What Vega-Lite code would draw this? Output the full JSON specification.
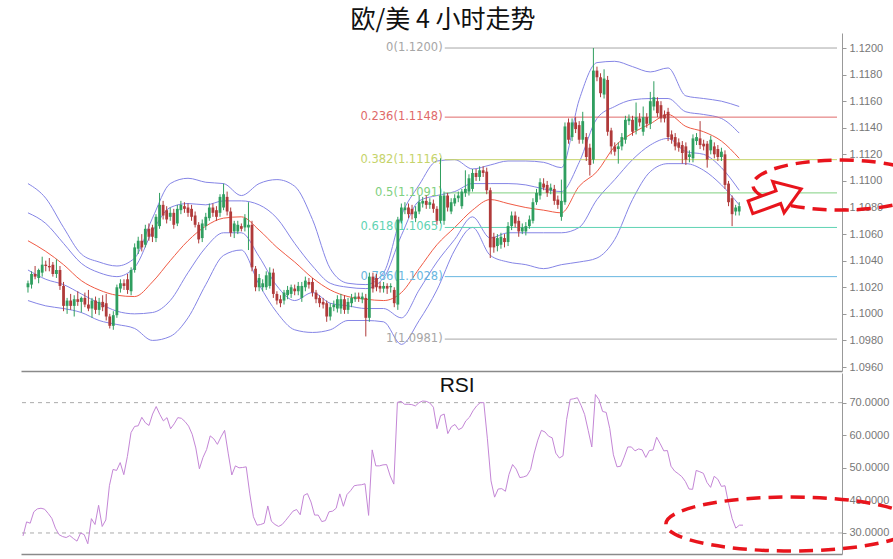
{
"$schema": "https://vega.github.io/schema/vega-lite/v6.json",
"padding": {"left": 20, "top": 8, "right": 0, "bottom": 0},
"background": "white",
"title": {"text": "欧/美 4 小时走势", "fontSize": 25, "font": "Noto Sans CJK SC", "fontWeight": "normal", "color": "#111111", "offset": 0, "anchor": "start", "dx": 330},
"config": {"view": {"stroke": null}, "axis": {"labelFont": "Liberation Sans", "labelFontSize": 11, "labelColor": "#777777", "domainColor": "#999999", "tickColor": "#999999", "grid": false, "labelOverlap": false}},
"spacing": 0,
"datasets": {
"candles": [
{"i":0,"o":1.1020,"h":1.1025,"l":1.1016,"c":1.1023,"r":29.1},
{"i":1,"o":1.1022,"h":1.1032,"l":1.1019,"c":1.1030,"r":33.4},
{"i":2,"o":1.1030,"h":1.1036,"l":1.1026,"c":1.1028,"r":33.0},
{"i":3,"o":1.1027,"h":1.1034,"l":1.1023,"c":1.1033,"r":36.5},
{"i":4,"o":1.1031,"h":1.1043,"l":1.1028,"c":1.1037,"r":37.4},
{"i":5,"o":1.1037,"h":1.1040,"l":1.1032,"c":1.1036,"r":37.6},
{"i":6,"o":1.1036,"h":1.1042,"l":1.1032,"c":1.1035,"r":37.3},
{"i":7,"o":1.1037,"h":1.1039,"l":1.1028,"c":1.1030,"r":36.0},
{"i":8,"o":1.1030,"h":1.1041,"l":1.1027,"c":1.1033,"r":34.5},
{"i":9,"o":1.1033,"h":1.1036,"l":1.1018,"c":1.1021,"r":31.5},
{"i":10,"o":1.1021,"h":1.1024,"l":1.1002,"c":1.1006,"r":29.5},
{"i":11,"o":1.1006,"h":1.1012,"l":1.1000,"c":1.1010,"r":28.9},
{"i":12,"o":1.1010,"h":1.1015,"l":1.1003,"c":1.1006,"r":28.6},
{"i":13,"o":1.1006,"h":1.1014,"l":1.0998,"c":1.1011,"r":29.2},
{"i":14,"o":1.1011,"h":1.1017,"l":1.1006,"c":1.1009,"r":28.3},
{"i":15,"o":1.1009,"h":1.1013,"l":1.1001,"c":1.1012,"r":27.5},
{"i":16,"o":1.1012,"h":1.1016,"l":1.1005,"c":1.1007,"r":30.0},
{"i":17,"o":1.1007,"h":1.1018,"l":1.1002,"c":1.1004,"r":29.5},
{"i":18,"o":1.1004,"h":1.1012,"l":1.0997,"c":1.1010,"r":26.7},
{"i":19,"o":1.1010,"h":1.1013,"l":1.1000,"c":1.1003,"r":34.4},
{"i":20,"o":1.1003,"h":1.1012,"l":1.0999,"c":1.1009,"r":32.6},
{"i":21,"o":1.1009,"h":1.1014,"l":1.1002,"c":1.1005,"r":38.5},
{"i":22,"o":1.1008,"h":1.1015,"l":1.0995,"c":1.0998,"r":32.0},
{"i":23,"o":1.0998,"h":1.1000,"l":1.0989,"c":1.0991,"r":34.0},
{"i":24,"o":1.0991,"h":1.1002,"l":1.0988,"c":1.0999,"r":44.5},
{"i":25,"o":1.0999,"h":1.1022,"l":1.0997,"c":1.1020,"r":49.5},
{"i":26,"o":1.1019,"h":1.1026,"l":1.1016,"c":1.1023,"r":49.2},
{"i":27,"o":1.1023,"h":1.1026,"l":1.1018,"c":1.1021,"r":51.6},
{"i":28,"o":1.1026,"h":1.1030,"l":1.1015,"c":1.1018,"r":47.9},
{"i":29,"o":1.1017,"h":1.1035,"l":1.1014,"c":1.1033,"r":53.5},
{"i":30,"o":1.1033,"h":1.1053,"l":1.1031,"c":1.1050,"r":60.8},
{"i":31,"o":1.1049,"h":1.1058,"l":1.1045,"c":1.1055,"r":62.7},
{"i":32,"o":1.1055,"h":1.1060,"l":1.1047,"c":1.1050,"r":62.9},
{"i":33,"o":1.1052,"h":1.1067,"l":1.1050,"c":1.1064,"r":65.5},
{"i":34,"o":1.1064,"h":1.1068,"l":1.1055,"c":1.1058,"r":63.8},
{"i":35,"o":1.1065,"h":1.1067,"l":1.1054,"c":1.1058,"r":63.0},
{"i":36,"o":1.1057,"h":1.1075,"l":1.1054,"c":1.1073,"r":66.5},
{"i":37,"o":1.1066,"h":1.1091,"l":1.1064,"c":1.1082,"r":68.8},
{"i":38,"o":1.1082,"h":1.1085,"l":1.1071,"c":1.1074,"r":66.4},
{"i":39,"o":1.1078,"h":1.1081,"l":1.1068,"c":1.1071,"r":64.4},
{"i":40,"o":1.1073,"h":1.1080,"l":1.1070,"c":1.1076,"r":65.4},
{"i":41,"o":1.1076,"h":1.1079,"l":1.1064,"c":1.1067,"r":62.0},
{"i":42,"o":1.1068,"h":1.1082,"l":1.1066,"c":1.1079,"r":63.5},
{"i":43,"o":1.1078,"h":1.1085,"l":1.1075,"c":1.1082,"r":65.4},
{"i":44,"o":1.1081,"h":1.1084,"l":1.1076,"c":1.1079,"r":65.2},
{"i":45,"o":1.1080,"h":1.1083,"l":1.1073,"c":1.1076,"r":64.2},
{"i":46,"o":1.1079,"h":1.1082,"l":1.1070,"c":1.1073,"r":62.8},
{"i":47,"o":1.1074,"h":1.1077,"l":1.1065,"c":1.1067,"r":60.3},
{"i":48,"o":1.1067,"h":1.1069,"l":1.1053,"c":1.1056,"r":56.1},
{"i":49,"o":1.1057,"h":1.1071,"l":1.1054,"c":1.1068,"r":49.7},
{"i":50,"o":1.1066,"h":1.1076,"l":1.1063,"c":1.1073,"r":53.2},
{"i":51,"o":1.1072,"h":1.1083,"l":1.1070,"c":1.1080,"r":55.6},
{"i":52,"o":1.1080,"h":1.1083,"l":1.1073,"c":1.1076,"r":59.8},
{"i":53,"o":1.1078,"h":1.1081,"l":1.1070,"c":1.1073,"r":58.9},
{"i":54,"o":1.1076,"h":1.1090,"l":1.1073,"c":1.1088,"r":57.2},
{"i":55,"o":1.1080,"h":1.1098,"l":1.1078,"c":1.1090,"r":59.5},
{"i":56,"o":1.1088,"h":1.1092,"l":1.1074,"c":1.1077,"r":61.5},
{"i":57,"o":1.1077,"h":1.1080,"l":1.1058,"c":1.1061,"r":54.5},
{"i":58,"o":1.1062,"h":1.1070,"l":1.1057,"c":1.1068,"r":47.8},
{"i":59,"o":1.1062,"h":1.1070,"l":1.1060,"c":1.1067,"r":50.6},
{"i":60,"o":1.1066,"h":1.1068,"l":1.1062,"c":1.1064,"r":50.0},
{"i":61,"o":1.1065,"h":1.1075,"l":1.1062,"c":1.1072,"r":50.1},
{"i":62,"o":1.1065,"h":1.1084,"l":1.1048,"c":1.1067,"r":50.3},
{"i":63,"o":1.1067,"h":1.1070,"l":1.1032,"c":1.1035,"r":42.0},
{"i":64,"o":1.1034,"h":1.1036,"l":1.1017,"c":1.1020,"r":35.0},
{"i":65,"o":1.1020,"h":1.1030,"l":1.1017,"c":1.1027,"r":32.4},
{"i":66,"o":1.1020,"h":1.1026,"l":1.1017,"c":1.1023,"r":32.6},
{"i":67,"o":1.1020,"h":1.1032,"l":1.1018,"c":1.1029,"r":33.0},
{"i":68,"o":1.1021,"h":1.1035,"l":1.1019,"c":1.1031,"r":38.3},
{"i":69,"o":1.1031,"h":1.1034,"l":1.1012,"c":1.1015,"r":33.6},
{"i":70,"o":1.1015,"h":1.1017,"l":1.1007,"c":1.1010,"r":32.6},
{"i":71,"o":1.1011,"h":1.1014,"l":1.1005,"c":1.1008,"r":32.0},
{"i":72,"o":1.1010,"h":1.1018,"l":1.1007,"c":1.1016,"r":32.6},
{"i":73,"o":1.1014,"h":1.1021,"l":1.1011,"c":1.1018,"r":33.9},
{"i":74,"o":1.1015,"h":1.1022,"l":1.1012,"c":1.1020,"r":35.3},
{"i":75,"o":1.1019,"h":1.1022,"l":1.1014,"c":1.1017,"r":36.7},
{"i":76,"o":1.1017,"h":1.1024,"l":1.1014,"c":1.1021,"r":37.2},
{"i":77,"o":1.1012,"h":1.1024,"l":1.1009,"c":1.1021,"r":35.6},
{"i":78,"o":1.1020,"h":1.1028,"l":1.1017,"c":1.1025,"r":41.5},
{"i":79,"o":1.1024,"h":1.1027,"l":1.1019,"c":1.1022,"r":42.1},
{"i":80,"o":1.1024,"h":1.1027,"l":1.1013,"c":1.1016,"r":39.5},
{"i":81,"o":1.1016,"h":1.1018,"l":1.1008,"c":1.1011,"r":35.5},
{"i":82,"o":1.1012,"h":1.1014,"l":1.1005,"c":1.1008,"r":35.5},
{"i":83,"o":1.1009,"h":1.1012,"l":1.1004,"c":1.1007,"r":33.5},
{"i":84,"o":1.1008,"h":1.1010,"l":1.0994,"c":1.0998,"r":33.8},
{"i":85,"o":1.0998,"h":1.1008,"l":1.0995,"c":1.1005,"r":36.5},
{"i":86,"o":1.1005,"h":1.1010,"l":1.1002,"c":1.1007,"r":36.7},
{"i":87,"o":1.1004,"h":1.1014,"l":1.1001,"c":1.1011,"r":37.6},
{"i":88,"o":1.1004,"h":1.1015,"l":1.1000,"c":1.1011,"r":42.0},
{"i":89,"o":1.1011,"h":1.1014,"l":1.1000,"c":1.1003,"r":38.2},
{"i":90,"o":1.1003,"h":1.1012,"l":1.1000,"c":1.1009,"r":41.8},
{"i":91,"o":1.1008,"h":1.1015,"l":1.1005,"c":1.1012,"r":43.0},
{"i":92,"o":1.1011,"h":1.1016,"l":1.1009,"c":1.1013,"r":44.5},
{"i":93,"o":1.1013,"h":1.1016,"l":1.1009,"c":1.1012,"r":44.7},
{"i":94,"o":1.1011,"h":1.1016,"l":1.1008,"c":1.1013,"r":44.8},
{"i":95,"o":1.1012,"h":1.1015,"l":1.0983,"c":1.0997,"r":45.1},
{"i":96,"o":1.0997,"h":1.1031,"l":1.0994,"c":1.1028,"r":35.4},
{"i":97,"o":1.1028,"h":1.1031,"l":1.1016,"c":1.1019,"r":55.5},
{"i":98,"o":1.1027,"h":1.1030,"l":1.1017,"c":1.1020,"r":50.6},
{"i":99,"o":1.1021,"h":1.1024,"l":1.1016,"c":1.1019,"r":50.6},
{"i":100,"o":1.1019,"h":1.1024,"l":1.1016,"c":1.1021,"r":50.9},
{"i":101,"o":1.1021,"h":1.1023,"l":1.1015,"c":1.1019,"r":51.0},
{"i":102,"o":1.1020,"h":1.1023,"l":1.1016,"c":1.1021,"r":47.5},
{"i":103,"o":1.1018,"h":1.1020,"l":1.1005,"c":1.1008,"r":45.0},
{"i":104,"o":1.1007,"h":1.1073,"l":1.1003,"c":1.1071,"r":70.1},
{"i":105,"o":1.1070,"h":1.1083,"l":1.1068,"c":1.1080,"r":70.4},
{"i":106,"o":1.1078,"h":1.1084,"l":1.1075,"c":1.1080,"r":69.5},
{"i":107,"o":1.1080,"h":1.1083,"l":1.1072,"c":1.1075,"r":69.5},
{"i":108,"o":1.1079,"h":1.1082,"l":1.1071,"c":1.1075,"r":69.4},
{"i":109,"o":1.1072,"h":1.1081,"l":1.1069,"c":1.1077,"r":69.0},
{"i":110,"o":1.1077,"h":1.1089,"l":1.1075,"c":1.1084,"r":70.0},
{"i":111,"o":1.1083,"h":1.1088,"l":1.1080,"c":1.1085,"r":70.5},
{"i":112,"o":1.1085,"h":1.1089,"l":1.1079,"c":1.1082,"r":70.4},
{"i":113,"o":1.1082,"h":1.1087,"l":1.1079,"c":1.1084,"r":69.9},
{"i":114,"o":1.1083,"h":1.1086,"l":1.1076,"c":1.1079,"r":68.6},
{"i":115,"o":1.1079,"h":1.1081,"l":1.1067,"c":1.1070,"r":62.0},
{"i":116,"o":1.1070,"h":1.1117,"l":1.1068,"c":1.1089,"r":66.0},
{"i":117,"o":1.1070,"h":1.1092,"l":1.1067,"c":1.1089,"r":66.5},
{"i":118,"o":1.1089,"h":1.1091,"l":1.1077,"c":1.1080,"r":60.5},
{"i":119,"o":1.1077,"h":1.1087,"l":1.1075,"c":1.1084,"r":62.6},
{"i":120,"o":1.1083,"h":1.1090,"l":1.1081,"c":1.1087,"r":63.3},
{"i":121,"o":1.1087,"h":1.1092,"l":1.1084,"c":1.1089,"r":61.7},
{"i":122,"o":1.1081,"h":1.1094,"l":1.1079,"c":1.1092,"r":62.3},
{"i":123,"o":1.1091,"h":1.1108,"l":1.1088,"c":1.1094,"r":64.4},
{"i":124,"o":1.1092,"h":1.1105,"l":1.1089,"c":1.1102,"r":65.5},
{"i":125,"o":1.1094,"h":1.1109,"l":1.1092,"c":1.1106,"r":67.5},
{"i":126,"o":1.1106,"h":1.1109,"l":1.1100,"c":1.1103,"r":69.0},
{"i":127,"o":1.1103,"h":1.1111,"l":1.1100,"c":1.1108,"r":70.0},
{"i":128,"o":1.1108,"h":1.1111,"l":1.1103,"c":1.1106,"r":70.0},
{"i":129,"o":1.1107,"h":1.1110,"l":1.1090,"c":1.1093,"r":58.9},
{"i":130,"o":1.1093,"h":1.1095,"l":1.1042,"c":1.1050,"r":46.0},
{"i":131,"o":1.1058,"h":1.1061,"l":1.1046,"c":1.1050,"r":41.0},
{"i":132,"o":1.1051,"h":1.1060,"l":1.1047,"c":1.1057,"r":43.5},
{"i":133,"o":1.1052,"h":1.1061,"l":1.1049,"c":1.1058,"r":43.6},
{"i":134,"o":1.1057,"h":1.1060,"l":1.1050,"c":1.1054,"r":42.8},
{"i":135,"o":1.1054,"h":1.1069,"l":1.1051,"c":1.1066,"r":48.0},
{"i":136,"o":1.1066,"h":1.1077,"l":1.1063,"c":1.1074,"r":51.0},
{"i":137,"o":1.1074,"h":1.1077,"l":1.1065,"c":1.1068,"r":49.6},
{"i":138,"o":1.1070,"h":1.1073,"l":1.1058,"c":1.1062,"r":47.0},
{"i":139,"o":1.1062,"h":1.1068,"l":1.1060,"c":1.1065,"r":47.2},
{"i":140,"o":1.1062,"h":1.1069,"l":1.1059,"c":1.1066,"r":47.6},
{"i":141,"o":1.1066,"h":1.1074,"l":1.1064,"c":1.1071,"r":49.5},
{"i":142,"o":1.1070,"h":1.1087,"l":1.1068,"c":1.1084,"r":54.5},
{"i":143,"o":1.1084,"h":1.1094,"l":1.1082,"c":1.1091,"r":58.5},
{"i":144,"o":1.1089,"h":1.1102,"l":1.1086,"c":1.1099,"r":61.5},
{"i":145,"o":1.1098,"h":1.1102,"l":1.1093,"c":1.1095,"r":61.0},
{"i":146,"o":1.1097,"h":1.1100,"l":1.1088,"c":1.1091,"r":59.7},
{"i":147,"o":1.1093,"h":1.1098,"l":1.1090,"c":1.1095,"r":59.2},
{"i":148,"o":1.1094,"h":1.1097,"l":1.1082,"c":1.1085,"r":54.5},
{"i":149,"o":1.1086,"h":1.1089,"l":1.1079,"c":1.1082,"r":53.0},
{"i":150,"o":1.1073,"h":1.1101,"l":1.1070,"c":1.1085,"r":53.7},
{"i":151,"o":1.1084,"h":1.1144,"l":1.1082,"c":1.1141,"r":64.8},
{"i":152,"o":1.1144,"h":1.1147,"l":1.1128,"c":1.1131,"r":71.0},
{"i":153,"o":1.1133,"h":1.1147,"l":1.1130,"c":1.1144,"r":71.2},
{"i":154,"o":1.1144,"h":1.1148,"l":1.1136,"c":1.1139,"r":71.5},
{"i":155,"o":1.1142,"h":1.1145,"l":1.1128,"c":1.1131,"r":69.2},
{"i":156,"o":1.1131,"h":1.1152,"l":1.1128,"c":1.1145,"r":66.4},
{"i":157,"o":1.1133,"h":1.1136,"l":1.1115,"c":1.1118,"r":61.5},
{"i":158,"o":1.1125,"h":1.1128,"l":1.1104,"c":1.1112,"r":56.4},
{"i":159,"o":1.1116,"h":1.1200,"l":1.1113,"c":1.1183,"r":72.5},
{"i":160,"o":1.1183,"h":1.1186,"l":1.1175,"c":1.1178,"r":70.9},
{"i":161,"o":1.1178,"h":1.1181,"l":1.1163,"c":1.1166,"r":67.3},
{"i":162,"o":1.1165,"h":1.1184,"l":1.1162,"c":1.1177,"r":67.0},
{"i":163,"o":1.1176,"h":1.1179,"l":1.1134,"c":1.1137,"r":62.0},
{"i":164,"o":1.1138,"h":1.1140,"l":1.1120,"c":1.1126,"r":54.0},
{"i":165,"o":1.1126,"h":1.1129,"l":1.1119,"c":1.1122,"r":50.3},
{"i":166,"o":1.1124,"h":1.1129,"l":1.1113,"c":1.1126,"r":50.5},
{"i":167,"o":1.1126,"h":1.1136,"l":1.1123,"c":1.1133,"r":53.3},
{"i":168,"o":1.1131,"h":1.1149,"l":1.1128,"c":1.1146,"r":56.4},
{"i":169,"o":1.1145,"h":1.1150,"l":1.1142,"c":1.1147,"r":56.4},
{"i":170,"o":1.1146,"h":1.1149,"l":1.1134,"c":1.1137,"r":55.2},
{"i":171,"o":1.1138,"h":1.1159,"l":1.1135,"c":1.1148,"r":55.8},
{"i":172,"o":1.1147,"h":1.1151,"l":1.1141,"c":1.1144,"r":55.5},
{"i":173,"o":1.1137,"h":1.1156,"l":1.1134,"c":1.1148,"r":53.2},
{"i":174,"o":1.1148,"h":1.1151,"l":1.1140,"c":1.1143,"r":55.3},
{"i":175,"o":1.1143,"h":1.1167,"l":1.1139,"c":1.1160,"r":55.5},
{"i":176,"o":1.1156,"h":1.1175,"l":1.1153,"c":1.1163,"r":59.4},
{"i":177,"o":1.1160,"h":1.1163,"l":1.1148,"c":1.1151,"r":57.4},
{"i":178,"o":1.1157,"h":1.1160,"l":1.1144,"c":1.1147,"r":55.2},
{"i":179,"o":1.1150,"h":1.1153,"l":1.1144,"c":1.1147,"r":55.3},
{"i":180,"o":1.1152,"h":1.1155,"l":1.1130,"c":1.1133,"r":50.5},
{"i":181,"o":1.1135,"h":1.1138,"l":1.1128,"c":1.1131,"r":49.0},
{"i":182,"o":1.1133,"h":1.1136,"l":1.1123,"c":1.1126,"r":48.2},
{"i":183,"o":1.1129,"h":1.1132,"l":1.1122,"c":1.1125,"r":47.3},
{"i":184,"o":1.1127,"h":1.1130,"l":1.1113,"c":1.1121,"r":45.8},
{"i":185,"o":1.1126,"h":1.1129,"l":1.1112,"c":1.1116,"r":43.5},
{"i":186,"o":1.1118,"h":1.1123,"l":1.1114,"c":1.1120,"r":43.4},
{"i":187,"o":1.1117,"h":1.1135,"l":1.1114,"c":1.1132,"r":49.2},
{"i":188,"o":1.1130,"h":1.1136,"l":1.1127,"c":1.1133,"r":48.8},
{"i":189,"o":1.1132,"h":1.1145,"l":1.1124,"c":1.1127,"r":48.3},
{"i":190,"o":1.1128,"h":1.1131,"l":1.1123,"c":1.1126,"r":45.5},
{"i":191,"o":1.1128,"h":1.1130,"l":1.1110,"c":1.1116,"r":44.0},
{"i":192,"o":1.1123,"h":1.1134,"l":1.1120,"c":1.1131,"r":47.4},
{"i":193,"o":1.1126,"h":1.1129,"l":1.1117,"c":1.1120,"r":46.5},
{"i":194,"o":1.1124,"h":1.1127,"l":1.1115,"c":1.1118,"r":44.3},
{"i":195,"o":1.1118,"h":1.1125,"l":1.1115,"c":1.1122,"r":44.5},
{"i":196,"o":1.1120,"h":1.1123,"l":1.1094,"c":1.1097,"r":39.0},
{"i":197,"o":1.1098,"h":1.1100,"l":1.1081,"c":1.1084,"r":34.4},
{"i":198,"o":1.1087,"h":1.1089,"l":1.1066,"c":1.1075,"r":31.5},
{"i":199,"o":1.1077,"h":1.1082,"l":1.1074,"c":1.1080,"r":32.4},
{"i":200,"o":1.1077,"h":1.1084,"l":1.1074,"c":1.1081,"r":32.4}
],
"bands": [
{"i":0,"u2":1.1098,"u1":1.1076,"m":1.1055,"l1":1.1033,"l2":1.1010},
{"i":5,"u2":1.1087,"u1":1.1068,"m":1.1047,"l1":1.1026,"l2":1.1006},
{"i":10,"u2":1.1065,"u1":1.1053,"m":1.1037,"l1":1.1022,"l2":1.1004},
{"i":15,"u2":1.1045,"u1":1.1038,"m":1.1025,"l1":1.1015,"l2":1.1001},
{"i":20,"u2":1.1039,"u1":1.1031,"m":1.1018,"l1":1.1008,"l2":1.0995},
{"i":25,"u2":1.1036,"u1":1.1028,"m":1.1014,"l1":1.1002,"l2":1.0992},
{"i":30,"u2":1.1042,"u1":1.1035,"m":1.1013,"l1":1.1000,"l2":1.0989},
{"i":35,"u2":1.1072,"u1":1.1062,"m":1.1024,"l1":1.1001,"l2":1.0980},
{"i":40,"u2":1.1098,"u1":1.1080,"m":1.1040,"l1":1.1010,"l2":1.0983},
{"i":45,"u2":1.1102,"u1":1.1083,"m":1.1055,"l1":1.1031,"l2":1.0997},
{"i":50,"u2":1.1099,"u1":1.1082,"m":1.1066,"l1":1.1050,"l2":1.1022},
{"i":55,"u2":1.1098,"u1":1.1085,"m":1.1072,"l1":1.1061,"l2":1.1044},
{"i":60,"u2":1.1089,"u1":1.1085,"m":1.1073,"l1":1.1061,"l2":1.1048},
{"i":65,"u2":1.1098,"u1":1.1082,"m":1.1063,"l1":1.1043,"l2":1.1022},
{"i":70,"u2":1.1101,"u1":1.1072,"m":1.1050,"l1":1.1021,"l2":1.1001},
{"i":75,"u2":1.1096,"u1":1.1053,"m":1.1039,"l1":1.1010,"l2":1.0988},
{"i":80,"u2":1.1071,"u1":1.1036,"m":1.1027,"l1":1.1016,"l2":1.0986},
{"i":85,"u2":1.1034,"u1":1.1023,"m":1.1018,"l1":1.1008,"l2":1.0988},
{"i":90,"u2":1.1023,"u1":1.1020,"m":1.1013,"l1":1.1006,"l2":1.0995},
{"i":95,"u2":1.1022,"u1":1.1019,"m":1.1011,"l1":1.1004,"l2":1.0995},
{"i":100,"u2":1.1031,"u1":1.1027,"m":1.1010,"l1":1.1004,"l2":1.0994},
{"i":105,"u2":1.1074,"u1":1.1059,"m":1.1016,"l1":1.0997,"l2":1.0977},
{"i":110,"u2":1.1097,"u1":1.1085,"m":1.1034,"l1":1.1018,"l2":1.0995},
{"i":115,"u2":1.1115,"u1":1.1089,"m":1.1052,"l1":1.1039,"l2":1.1018},
{"i":120,"u2":1.1116,"u1":1.1092,"m":1.1065,"l1":1.1056,"l2":1.1048},
{"i":125,"u2":1.1109,"u1":1.1098,"m":1.1078,"l1":1.1073,"l2":1.1065},
{"i":130,"u2":1.1112,"u1":1.1098,"m":1.1086,"l1":1.1057,"l2":1.1044},
{"i":135,"u2":1.1115,"u1":1.1098,"m":1.1083,"l1":1.1061,"l2":1.1039},
{"i":140,"u2":1.1115,"u1":1.1097,"m":1.1080,"l1":1.1061,"l2":1.1037},
{"i":145,"u2":1.1114,"u1":1.1094,"m":1.1078,"l1":1.1061,"l2":1.1034},
{"i":150,"u2":1.1110,"u1":1.1092,"m":1.1076,"l1":1.1061,"l2":1.1037},
{"i":155,"u2":1.1161,"u1":1.1114,"m":1.1096,"l1":1.1065,"l2":1.1039},
{"i":160,"u2":1.1189,"u1":1.1147,"m":1.1107,"l1":1.1086,"l2":1.1042},
{"i":165,"u2":1.1190,"u1":1.1156,"m":1.1126,"l1":1.1101,"l2":1.1056},
{"i":170,"u2":1.1186,"u1":1.1161,"m":1.1136,"l1":1.1116,"l2":1.1086},
{"i":175,"u2":1.1182,"u1":1.1162,"m":1.1143,"l1":1.1127,"l2":1.1107},
{"i":180,"u2":1.1185,"u1":1.1162,"m":1.1150,"l1":1.1132,"l2":1.1113},
{"i":185,"u2":1.1164,"u1":1.1152,"m":1.1141,"l1":1.1122,"l2":1.1113},
{"i":190,"u2":1.1162,"u1":1.1150,"m":1.1137,"l1":1.1120,"l2":1.1108},
{"i":195,"u2":1.1160,"u1":1.1147,"m":1.1130,"l1":1.1110,"l2":1.1097},
{"i":200,"u2":1.1156,"u1":1.1136,"m":1.1117,"l1":1.1093,"l2":1.1082}
],
"fib": [
{"lab":"0(1.1200)","v":1.1200},
{"lab":"0.236(1.1148)","v":1.1148},
{"lab":"0.382(1.1116)","v":1.1116},
{"lab":"0.5(1.1091)","v":1.1091},
{"lab":"0.618(1.1065)","v":1.1065},
{"lab":"0.786(1.1028)","v":1.1028},
{"lab":"1(1.0981)","v":1.0981}
],
"rsiLevels": [{"lvl":70},{"lvl":30}]
},
"vconcat": [
{
"width": 821, "height": 338,
"layer": [
{
"data": {"name": "bands"},
"transform": [{"fold": ["u2","u1","l1","l2"], "as": ["k","v"]}],
"mark": {"type": "line", "interpolate": "monotone", "strokeWidth": 1, "color": "#8585e6"},
"encoding": {
"x": {"field": "i", "type": "quantitative", "title": null, "scale": {"domain": [-0.556, 227.5], "nice": false, "zero": false}, "axis": {"orient": "bottom", "labels": false, "ticks": false, "domain": true, "domainColor": "#8a8a8a", "domainWidth": 1.5, "title": null}},
"y": {"field": "v", "type": "quantitative", "title": null, "scale": {"domain": [1.0957, 1.12113], "nice": false, "zero": false}, "axis": {"orient": "right", "values": [1.096,1.098,1.1,1.102,1.104,1.106,1.108,1.11,1.112,1.114,1.116,1.118,1.12], "tickCount": 20, "format": ".4f", "tickSize": 4, "labelPadding": 3, "labelOverlap": false, "title": null}},
"detail": {"field": "k"}
}
},
{
"data": {"name": "bands"},
"mark": {"type": "line", "interpolate": "monotone", "strokeWidth": 1, "color": "#f05a44"},
"encoding": {
"x": {"field": "i", "type": "quantitative", "title": null},
"y": {"field": "m", "type": "quantitative", "title": null}
}
},
{
"data": {"name": "fib"},
"mark": {"type": "rule", "strokeWidth": 1},
"encoding": {
"x": {"datum": 117.2, "type": "quantitative"},
"x2": {"datum": 227.5},
"y": {"field": "v", "type": "quantitative", "title": null},
"color": {"field": "lab", "type": "nominal", "legend": null, "sort": null, "scale": {"domain": ["0(1.1200)","0.236(1.1148)","0.382(1.1116)","0.5(1.1091)","0.618(1.1065)","0.786(1.1028)","1(1.0981)"], "range": ["#a6a6a6","#e06a6a","#c5d36a","#80d080","#5fd3b3","#69b6e0","#a6a6a6"]}}
}
},
{
"data": {"name": "fib"},
"mark": {"type": "text", "align": "right", "baseline": "middle", "font": "DejaVu Sans", "fontSize": 11.5},
"encoding": {
"x": {"datum": 116.6, "type": "quantitative"},
"y": {"field": "v", "type": "quantitative", "title": null},
"text": {"field": "lab"},
"color": {"field": "lab", "type": "nominal", "legend": null}
}
},
{
"data": {"name": "candles"},
"mark": {"type": "rule", "strokeWidth": 1},
"encoding": {
"x": {"field": "i", "type": "quantitative", "title": null},
"y": {"field": "l", "type": "quantitative", "title": null},
"y2": {"field": "h"},
"color": {"condition": {"test": "datum.c >= datum.o", "value": "#2f9e5f"}, "value": "#b03a3a"}
}
},
{
"data": {"name": "candles"},
"mark": {"type": "bar", "size": 2.8},
"encoding": {
"x": {"field": "i", "type": "quantitative", "title": null},
"y": {"field": "o", "type": "quantitative", "title": null},
"y2": {"field": "c"},
"color": {"condition": {"test": "datum.c >= datum.o", "value": "#2f9e5f"}, "value": "#b03a3a"}
}
},
{
"data": {"values": [{}]},
"mark": {"type": "point", "shape": "M1,0C1,0.157 0.552,0.284 0,0.284C-0.552,0.284 -1,0.157 -1,0C-1,-0.157 -0.552,-0.284 0,-0.284C0.552,-0.284 1,-0.157 1,0Z", "size": 30976, "filled": false, "stroke": "#e8141c", "strokeWidth": 3.5, "strokeDash": [14, 8], "opacity": 1, "clip": false},
"encoding": {
"x": {"datum": 228.6, "type": "quantitative"},
"y": {"datum": 1.10969, "type": "quantitative"}
}
},
{
"data": {"values": [{}]},
"mark": {"type": "point", "shape": "M-1,-0.25L0.1,-0.25L0.1,-0.62L1,0L0.1,0.62L0.1,0.25L-1,0.25Z", "size": 2916, "filled": true, "fill": "#ffffff", "stroke": "#e8141c", "strokeWidth": 3, "angle": -20, "opacity": 1, "fillOpacity": 1, "clip": false},
"encoding": {
"x": {"datum": 210.3, "type": "quantitative"},
"y": {"datum": 1.10871, "type": "quantitative"}
}
}
]
},
{
"width": 821, "height": 181,
"layer": [
{
"data": {"name": "rsiLevels"},
"mark": {"type": "rule", "color": "#aaaaaa", "strokeWidth": 1, "strokeDash": [4, 4]},
"encoding": {
"y": {"field": "lvl", "type": "quantitative", "title": null, "scale": {"domain": [23.55, 79.1], "nice": false, "zero": false}, "axis": {"orient": "right", "values": [30,40,50,60,70], "tickCount": 10, "format": ".4f", "tickSize": 4, "labelPadding": 3, "labelOverlap": false, "title": null}}
}
},
{
"data": {"name": "candles"},
"mark": {"type": "line", "strokeWidth": 1, "color": "#c486d6"},
"encoding": {
"x": {"field": "i", "type": "quantitative", "title": null, "scale": {"domain": [-0.556, 227.5], "nice": false, "zero": false}, "axis": {"orient": "bottom", "labels": false, "ticks": false, "domain": true, "domainColor": "#8a8a8a", "domainWidth": 1.5, "title": null}},
"y": {"field": "r", "type": "quantitative", "title": null}
}
},
{
"data": {"values": [{"t": "RSI"}]},
"mark": {"type": "text", "font": "Liberation Sans", "fontSize": 21, "color": "#111111", "align": "center", "baseline": "middle"},
"encoding": {
"x": {"datum": 120.6, "type": "quantitative"},
"y": {"datum": 75.1, "type": "quantitative"},
"text": {"field": "t"}
}
},
{
"data": {"values": [{}]},
"mark": {"type": "point", "shape": "M1,0C1,0.119 0.552,0.216 0,0.216C-0.552,0.216 -1,0.119 -1,0C-1,-0.119 -0.552,-0.216 0,-0.216C0.552,-0.216 1,-0.119 1,0Z", "size": 62500, "filled": false, "stroke": "#e8141c", "strokeWidth": 3.5, "strokeDash": [14, 8], "opacity": 1, "clip": false},
"encoding": {
"x": {"datum": 213.3, "type": "quantitative"},
"y": {"datum": 32.75, "type": "quantitative"}
}
}
]
}
]
}
